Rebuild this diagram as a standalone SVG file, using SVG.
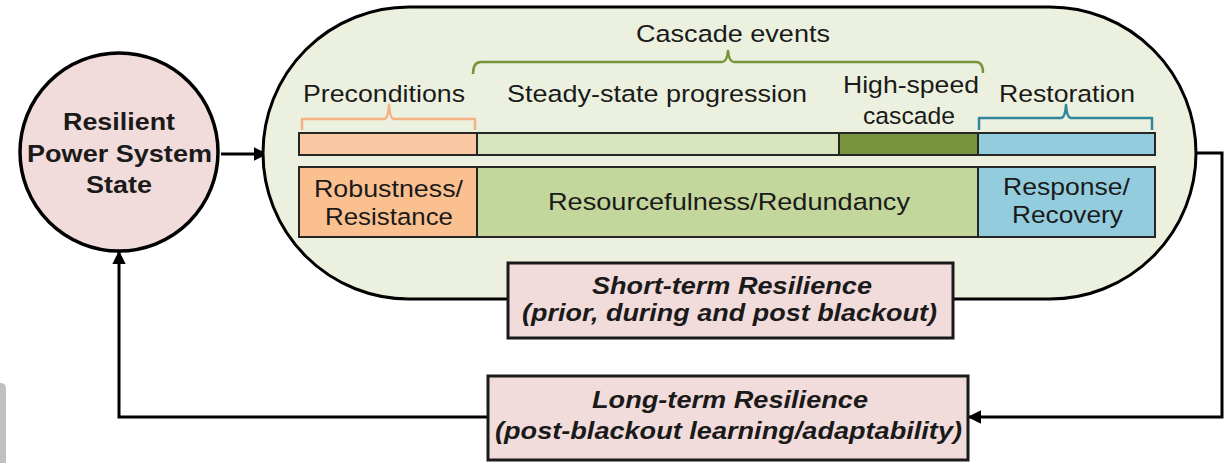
<svg xmlns="http://www.w3.org/2000/svg" width="1226" height="463" viewBox="0 0 1226 463">
<defs>
<style>
.t{font-family:"Liberation Sans",Arial,sans-serif;font-size:24.5px;fill:#1a1a1a}
.b{font-weight:bold}
.bi{font-weight:bold;font-style:italic}
.bar{stroke:#262626;stroke-width:2}
.conn{fill:none;stroke:#000;stroke-width:3}
.br{fill:none;stroke-width:2.5;stroke-linejoin:round}
</style>
<marker id="ah" viewBox="0 0 10 10" refX="9" refY="5" markerWidth="4.5" markerHeight="4.5" orient="auto" markerUnits="strokeWidth">
<path d="M0,0 L10,5 L0,10 z" fill="#000"/>
</marker>
</defs>
<rect width="1226" height="463" fill="#fff"/>
<rect x="-6" y="383" width="12" height="90" rx="5" fill="#c0c0c0"/>

<g id="connectors">
<line class="conn" x1="221" y1="154" x2="266" y2="154" marker-end="url(#ah)"/>
<polyline class="conn" points="1196,153 1222,153 1222,417 969,417" marker-end="url(#ah)"/>
<polyline class="conn" points="488,417 119,417 119,252" marker-end="url(#ah)"/>
</g>

<g id="resilient-state">
<circle cx="119" cy="152" r="99" fill="#f2dcdb" stroke="#000" stroke-width="3.5"/>
<text class="t b" x="63" y="130" font-size="26" textLength="112" lengthAdjust="spacingAndGlyphs">Resilient</text>
<text class="t b" x="27" y="162" font-size="26" textLength="185" lengthAdjust="spacingAndGlyphs">Power System</text>
<text class="t b" x="86" y="193" font-size="26" textLength="66" lengthAdjust="spacingAndGlyphs">State</text>
</g>

<g id="short-term-container">
<rect x="263" y="7" width="933" height="292" rx="146" ry="146" fill="#ebf1de" stroke="#000" stroke-width="3"/>
</g>

<g id="cascade-events">
<path class="br" stroke="#77933c" d="M473,74 Q473,62 481,62 L722,62 Q727,62 728,51 Q729,62 734,62 L976,62 Q983,62 983,73"/>
<text class="t" x="636" y="42" textLength="194" lengthAdjust="spacingAndGlyphs">Cascade events</text>
</g>

<g id="preconditions">
<path class="br" stroke="#f4b183" d="M302,130 L302,119 L384,119 Q388,119 389,105 Q390,119 394,119 L475,119 L475,130"/>
<text class="t" x="303" y="102" textLength="162" lengthAdjust="spacingAndGlyphs">Preconditions</text>
<rect class="bar" x="299" y="133" width="178" height="22" fill="#fac8a3"/>
</g>

<g id="steady-state">
<text class="t" x="507" y="102" textLength="300" lengthAdjust="spacingAndGlyphs">Steady-state progression</text>
<rect class="bar" x="477" y="133" width="362" height="22" fill="#d7e4bd"/>
</g>

<g id="high-speed">
<text class="t" x="843" y="93" textLength="136" lengthAdjust="spacingAndGlyphs">High-speed</text>
<text class="t" x="863" y="124" textLength="92" lengthAdjust="spacingAndGlyphs">cascade</text>
<rect class="bar" x="839" y="133" width="139" height="22" fill="#77933c"/>
</g>

<g id="restoration">
<path class="br" stroke="#31859c" d="M979,130 L979,118 L1061,118 Q1065,118 1066,105 Q1067,118 1071,118 L1152,118 L1152,130"/>
<text class="t" x="999" y="102" textLength="136" lengthAdjust="spacingAndGlyphs">Restoration</text>
<rect class="bar" x="978" y="133" width="177" height="22" fill="#93cddd"/>
</g>

<g id="robustness">
<rect class="bar" x="299" y="167" width="178" height="70" fill="#fac090"/>
<text class="t" x="314" y="197" textLength="149" lengthAdjust="spacingAndGlyphs">Robustness/</text>
<text class="t" x="325" y="225" textLength="128" lengthAdjust="spacingAndGlyphs">Resistance</text>
</g>

<g id="resourcefulness">
<rect class="bar" x="477" y="167" width="501" height="70" fill="#c3d69b"/>
<text class="t" x="548" y="210" textLength="362" lengthAdjust="spacingAndGlyphs">Resourcefulness/Redundancy</text>
</g>

<g id="response">
<rect class="bar" x="978" y="167" width="177" height="70" fill="#93cddd"/>
<text class="t" x="1003" y="195" textLength="127" lengthAdjust="spacingAndGlyphs">Response/</text>
<text class="t" x="1012" y="223" textLength="111" lengthAdjust="spacingAndGlyphs">Recovery</text>
</g>

<g id="short-term">
<rect x="508" y="263" width="445" height="75" fill="#f2dcdb" stroke="#1a1a1a" stroke-width="3"/>
<text class="t bi" x="592" y="294" font-size="25" textLength="280" lengthAdjust="spacingAndGlyphs">Short-term Resilience</text>
<text class="t bi" x="522" y="321" font-size="25" textLength="415" lengthAdjust="spacingAndGlyphs">(prior, during and post blackout)</text>
</g>

<g id="long-term">
<rect x="488" y="376" width="480" height="84" fill="#f2dcdb" stroke="#1a1a1a" stroke-width="3"/>
<text class="t bi" x="592" y="408" font-size="25" textLength="276" lengthAdjust="spacingAndGlyphs">Long-term Resilience</text>
<text class="t bi" x="495" y="439" font-size="25" textLength="467" lengthAdjust="spacingAndGlyphs">(post-blackout learning/adaptability)</text>
</g>
</svg>
